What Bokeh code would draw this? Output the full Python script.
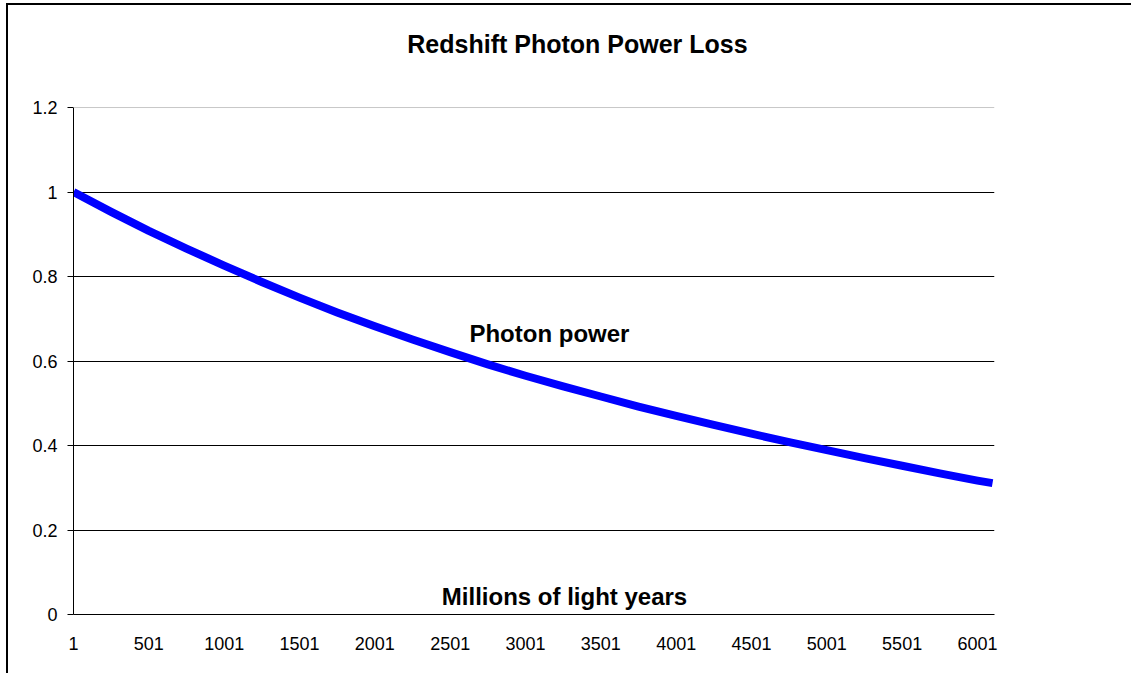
from bokeh.plotting import figure
from bokeh.models import FixedTicker, Span, Label, Range1d
from bokeh.embed import file_html
from bokeh.resources import INLINE

# ---- data ----
distance = [1, 251, 501, 751, 1001, 1251, 1501, 1751, 2001, 2251, 2501, 2751,
            3001, 3251, 3501, 3751, 4001, 4251, 4501, 4751, 5001, 5251, 5501,
            5751, 6001, 6101]
photon_power = [1.0, 0.953, 0.908, 0.866, 0.826, 0.787, 0.750, 0.715, 0.682,
                0.651, 0.621, 0.592, 0.565, 0.540, 0.516, 0.492, 0.470, 0.449,
                0.428, 0.408, 0.389, 0.370, 0.352, 0.334, 0.317, 0.311]
x_tick_values = [1, 501, 1001, 1501, 2001, 2501, 3001, 3501, 4001, 4501, 5001, 5501, 6001]
y_tick_values = [0, 0.2, 0.4, 0.6, 0.8, 1.0, 1.2]
y_tick_labels = ["0", "0.2", "0.4", "0.6", "0.8", "1", "1.2"]

title_text = "Redshift Photon Power Loss"
series_label = "Photon power"
x_title = "Millions of light years"

FONT = "Liberation Sans"

# frame: plot area 0..1.2 plus headroom above it that holds the chart title
p = figure(width=1125, height=670, output_backend="svg", toolbar_location=None,
           x_range=Range1d(1, 6114), y_range=Range1d(0, 1.4178))
p.min_border_left = 65
p.min_border_right = 139
p.min_border_top = 10
p.min_border_bottom = 61
p.outline_line_color = None
p.background_fill_color = "white"
p.border_fill_color = "white"
p.styles = {"border-left": "2px solid #000", "border-top": "2px solid #000",
            "margin-left": "6px", "margin-top": "3px"}

# axes
p.xaxis.ticker = FixedTicker(ticks=x_tick_values)
p.xaxis.major_label_overrides = {v: str(v) for v in x_tick_values}
p.xaxis.major_tick_out = 0
p.xaxis.major_tick_in = 0
p.xaxis.minor_tick_out = 0
p.xaxis.minor_tick_in = 0
p.xaxis.major_label_standoff = 22
p.xaxis.axis_line_color = "black"
p.xaxis.major_label_text_font = FONT
p.xaxis.major_label_text_font_size = "18px"
p.xaxis.major_label_text_color = "black"

p.yaxis.ticker = FixedTicker(ticks=y_tick_values)
p.yaxis.bounds = (0, 1.2)
p.yaxis.major_label_overrides = {v: l for v, l in zip(y_tick_values, y_tick_labels)}
p.yaxis.major_tick_out = 6
p.yaxis.major_tick_in = 0
p.yaxis.minor_tick_out = 0
p.yaxis.minor_tick_in = 0
p.yaxis.major_tick_line_color = "black"
p.yaxis.major_label_standoff = 10
p.yaxis.axis_line_color = "black"
p.yaxis.major_label_text_font = FONT
p.yaxis.major_label_text_font_size = "18px"
p.yaxis.major_label_text_color = "black"

# grid
p.xgrid.grid_line_color = None
p.ygrid.ticker = FixedTicker(ticks=[0.2, 0.4, 0.6, 0.8, 1.0])
p.ygrid.grid_line_color = "black"
p.ygrid.grid_line_width = 1
p.add_layout(Span(location=1.2, dimension="width", line_color="#c8c8c8", line_width=1))

# series
p.line(distance, photon_power, line_color="#0000ff", line_width=8, line_join="round")

# texts
p.add_layout(Label(x=3346, y=1.3515, text=title_text, text_align="center",
                   text_baseline="alphabetic", text_font=FONT, text_font_style="bold",
                   text_font_size="25px", text_color="black"))
p.add_layout(Label(x=3160, y=0.665, text=series_label, text_align="center",
                   text_baseline="alphabetic", text_font=FONT, text_font_style="bold",
                   text_font_size="24px", text_color="black"))
p.add_layout(Label(x=3260, y=0.0426, text=x_title, text_align="center",
                   text_baseline="alphabetic", text_font=FONT, text_font_style="bold",
                   text_font_size="24px", text_color="black"))

open("out.html", "w").write(file_html(p, INLINE))
